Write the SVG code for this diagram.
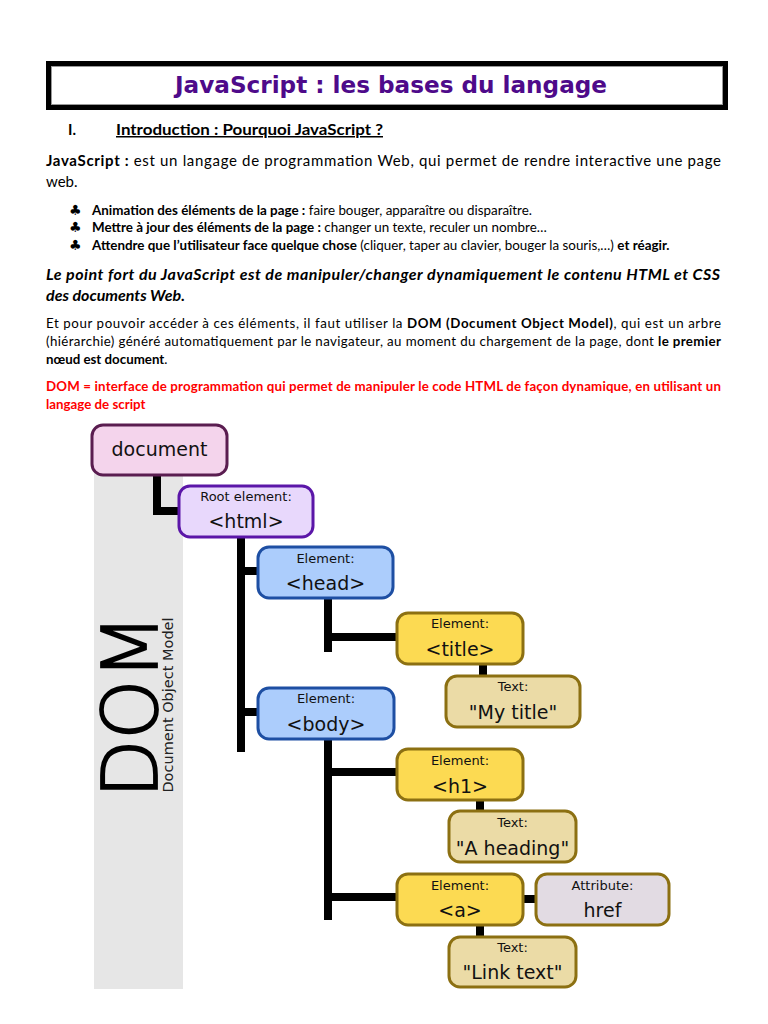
<svg xmlns="http://www.w3.org/2000/svg" width="768" height="1024" viewBox="0 0 768 1024">
<style>
.doc{font-family:Lato,"Liberation Sans",sans-serif;fill:#000}
.b{font-weight:bold}
.club{font-family:"DejaVu Sans",sans-serif;font-size:14px}
.node rect{stroke-width:3}
.lbl{font-family:"DejaVu Sans",sans-serif;font-size:13px;text-anchor:middle;fill:#111}
.val{font-family:"DejaVu Sans",sans-serif;font-size:19px;text-anchor:middle;fill:#111}
.wire{stroke:#000;stroke-width:8;fill:none;stroke-linejoin:miter;stroke-linecap:butt}
.yel{fill:#fcda52;stroke:#8c7012}
.tan{fill:#ebdba6;stroke:#8c7012}
.blu{fill:#accdfc;stroke:#1e4fa3}
</style>
<rect width="768" height="1024" fill="#fff"/>
<g id="title">
<rect x="48.5" y="63.5" width="677" height="44" fill="#fff" stroke="#000" stroke-width="5"/>
<rect x="51.5" y="66.5" width="671" height="38" fill="none" stroke="#999" stroke-width="1"/>
<text x="391" y="93" text-anchor="middle" font-family="'DejaVu Sans',sans-serif" font-weight="bold" font-size="23" fill="#4e0a8a" textLength="432" lengthAdjust="spacingAndGlyphs">JavaScript : les bases du langage</text>
</g>
<g id="intro" class="doc">
<text x="68" y="135" font-size="15" class="b">I.</text>
<text x="116" y="135" font-size="15" class="b" text-decoration="underline" textLength="267" lengthAdjust="spacingAndGlyphs">Introduction : Pourquoi JavaScript ?</text>
<text x="46" y="166" font-size="15" textLength="675" lengthAdjust="spacing"><tspan class="b">JavaScript :</tspan> est un langage de programmation Web, qui permet de rendre interactive une page</text>
<text x="46" y="187" font-size="15">web.</text>
<g font-size="13.4">
<text class="club" x="69" y="215">♣</text>
<text x="92" y="215"><tspan class="b">Animation des éléments de la page :</tspan> faire bouger, apparaître ou disparaître.</text>
<text class="club" x="69" y="232">♣</text>
<text x="92" y="232"><tspan class="b">Mettre à jour des éléments de la page :</tspan> changer un texte, reculer un nombre…</text>
<text class="club" x="69" y="250">♣</text>
<text x="92" y="250"><tspan class="b">Attendre que l’utilisateur face quelque chose</tspan> (cliquer, taper au clavier, bouger la souris,…) <tspan class="b">et réagir.</tspan></text>
</g>
<text x="46" y="280" font-size="16" class="b" font-style="italic" textLength="674" lengthAdjust="spacing">Le point fort du JavaScript est de manipuler/changer dynamiquement le contenu HTML et CSS</text>
<text x="46" y="301" font-size="16" class="b" font-style="italic">des documents Web.</text>
<g font-size="13.3">
<text x="46" y="328" textLength="675" lengthAdjust="spacing">Et pour pouvoir accéder à ces éléments, il faut utiliser la <tspan class="b">DOM (Document Object Model)</tspan>, qui est un arbre</text>
<text x="46" y="346" textLength="675" lengthAdjust="spacing">(hiérarchie) généré automatiquement par le navigateur, au moment du chargement de la page, dont <tspan class="b">le premier</tspan></text>
<text x="46" y="364"><tspan class="b">nœud est document</tspan>.</text>
<text x="46" y="391" class="b" style="fill:#ff0000" textLength="675" lengthAdjust="spacing">DOM = interface de programmation qui permet de manipuler le code HTML de façon dynamique, en utilisant un</text>
<text x="46" y="409" class="b" style="fill:#ff0000">langage de script</text>
</g>
</g>
<g id="band">
<rect x="94" y="460" width="89" height="529" fill="#e6e6e6"/>
<text transform="translate(157,706) rotate(-90)" text-anchor="middle" font-family="'DejaVu Sans',sans-serif" font-weight="200" font-size="76" fill="#000" stroke="#000" stroke-width="1.8">DOM</text>
<text transform="translate(173,705) rotate(-90)" text-anchor="middle" font-family="'DejaVu Sans',sans-serif" font-size="14.5" fill="#222">Document Object Model</text>
</g>
<g id="connectors">
<path class="wire" d="M157,475 V511 H180"/>
<path class="wire" d="M241,537 V752"/>
<path class="wire" d="M241,571 H259"/>
<path class="wire" d="M241,712 H259"/>
<path class="wire" d="M328,598 V652"/>
<path class="wire" d="M328,637 H398"/>
<path class="wire" d="M483,664 V676"/>
<path class="wire" d="M328,739 V920"/>
<path class="wire" d="M328,772 H398"/>
<path class="wire" d="M328,897 H398"/>
<path class="wire" d="M480,800 V812"/>
<path class="wire" d="M523,899 H537"/>
<path class="wire" d="M480,924 V937"/>
</g>
<g id="node-document" class="node">
<rect x="92" y="425" width="135" height="50" rx="11" fill="#f4d4ec" stroke="#5a1d50"/>
<text class="val" x="159.5" y="456">document</text>
</g>
<g id="node-html" class="node">
<rect x="179" y="486" width="134" height="51" rx="11" fill="#e8d8fc" stroke="#5b16a8"/>
<text class="lbl" x="246" y="501">Root element:</text>
<text class="val" x="246" y="528">&lt;html&gt;</text>
</g>
<g id="node-head" class="node">
<rect x="258" y="547" width="135" height="51" rx="11" class="blu"/>
<text class="lbl" x="325.5" y="563">Element:</text>
<text class="val" x="325.5" y="590">&lt;head&gt;</text>
</g>
<g id="node-title" class="node">
<rect x="397" y="613" width="126" height="51" rx="11" class="yel"/>
<text class="lbl" x="460" y="628">Element:</text>
<text class="val" x="460" y="656">&lt;title&gt;</text>
</g>
<g id="node-mytitle" class="node">
<rect x="446" y="676" width="134" height="51" rx="11" class="tan"/>
<text class="lbl" x="513" y="691">Text:</text>
<text class="val" x="513" y="719">"My title"</text>
</g>
<g id="node-body" class="node">
<rect x="258" y="688" width="136" height="51" rx="11" class="blu"/>
<text class="lbl" x="326" y="703">Element:</text>
<text class="val" x="326" y="731">&lt;body&gt;</text>
</g>
<g id="node-h1" class="node">
<rect x="397" y="749" width="126" height="51" rx="11" class="yel"/>
<text class="lbl" x="460" y="765">Element:</text>
<text class="val" x="460" y="793">&lt;h1&gt;</text>
</g>
<g id="node-heading" class="node">
<rect x="449" y="811" width="127" height="51" rx="11" class="tan"/>
<text class="lbl" x="512.5" y="827">Text:</text>
<text class="val" x="512.5" y="855">"A heading"</text>
</g>
<g id="node-a" class="node">
<rect x="397" y="874" width="126" height="51" rx="11" class="yel"/>
<text class="lbl" x="460" y="890">Element:</text>
<text class="val" x="460" y="917">&lt;a&gt;</text>
</g>
<g id="node-href" class="node">
<rect x="536" y="874" width="133" height="51" rx="11" fill="#e2dbe3" stroke="#8c7012"/>
<text class="lbl" x="602.5" y="890">Attribute:</text>
<text class="val" x="602.5" y="917">href</text>
</g>
<g id="node-linktext" class="node">
<rect x="449" y="937" width="127" height="50" rx="11" class="tan"/>
<text class="lbl" x="512.5" y="952">Text:</text>
<text class="val" x="512.5" y="979">"Link text"</text>
</g>
</svg>
